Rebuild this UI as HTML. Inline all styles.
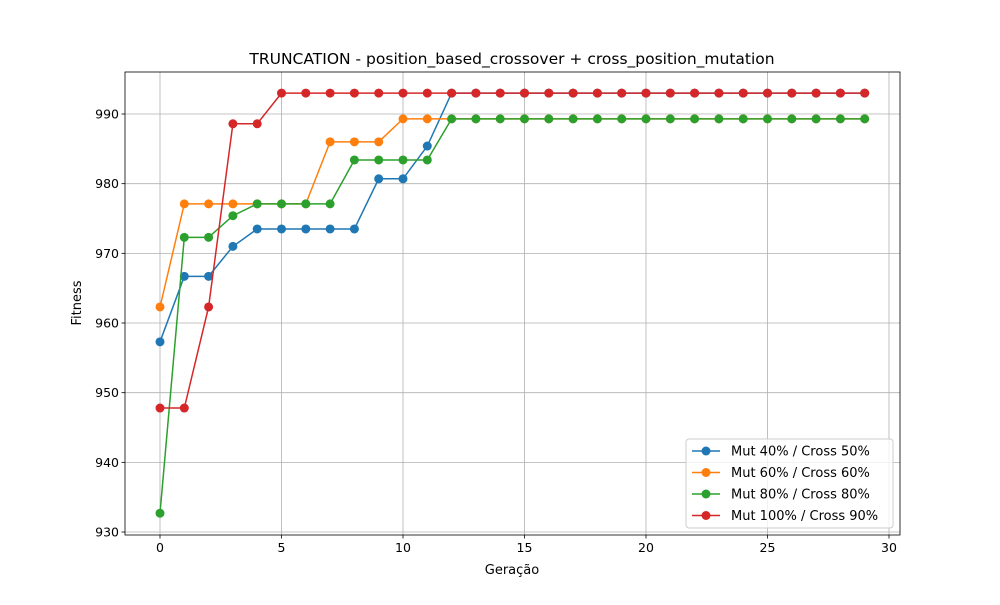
<!DOCTYPE html>
<html><head><meta charset="utf-8"><style>
body{margin:0;background:#fff;font-family:"Liberation Sans","DejaVu Sans",sans-serif}
svg text{font-family:"DejaVu Sans","Liberation Sans",sans-serif}
</style></head><body>
<svg id="chart" width="1000" height="600" viewBox="0 0 1000 600" xmlns="http://www.w3.org/2000/svg"></svg>
<script>
const generations=[...Array(30).keys()];
const seriesNames=["Mut 40% / Cross 50%","Mut 60% / Cross 60%","Mut 80% / Cross 80%","Mut 100% / Cross 90%"];
const colors=["#1f77b4","#ff7f0e","#2ca02c","#d62728"];
const mut40=[957.3,966.7,966.7,971.0,973.5,973.5,973.5,973.5,973.5,980.7,980.7,985.4,993,993,993,993,993,993,993,993,993,993,993,993,993,993,993,993,993,993];
const mut60=[962.3,977.1,977.1,977.1,977.1,977.1,977.1,986.0,986.0,986.0,989.3,989.3,989.3,989.3,989.3,989.3,989.3,989.3,989.3,989.3,989.3,989.3,989.3,989.3,989.3,989.3,989.3,989.3,989.3,989.3];
const mut80=[932.7,972.3,972.3,975.4,977.1,977.1,977.1,977.1,983.4,983.4,983.4,983.4,989.3,989.3,989.3,989.3,989.3,989.3,989.3,989.3,989.3,989.3,989.3,989.3,989.3,989.3,989.3,989.3,989.3,989.3];
const mut100=[947.8,947.8,962.3,988.6,988.6,993,993,993,993,993,993,993,993,993,993,993,993,993,993,993,993,993,993,993,993,993,993,993,993,993];
const xTicks=[0,5,10,15,20,25,30];
const yTicks=[930,940,950,960,970,980,990];
const allSeries=[mut40,mut60,mut80,mut100];
const L=125,R=900,T=72,B=535;
const X=v=>160+(v)*24.3;
const Y=v=>114+(990-v)*6.967;
const svg=document.getElementById('chart');
const NS="http://www.w3.org/2000/svg";
function mk(tag,attrs,parent){const e=document.createElementNS(NS,tag);for(const k in attrs)e.setAttribute(k,attrs[k]);(parent||svg).appendChild(e);return e;}
// grid
xTicks.forEach(t=>{const x=X(t);
 const g=mk('line',{x1:x,x2:x,y1:T,y2:B,stroke:'#b0b0b0','stroke-width':0.8});
 
 mk('line',{x1:x,x2:x,y1:B,y2:B+3.5,stroke:'#000','stroke-width':0.8});
 const tx=mk('text',{x:x,y:B+17,'text-anchor':'middle','font-size':12.5});tx.textContent=t;
 });
yTicks.forEach(t=>{const y=Y(t);
 const g=mk('line',{x1:L,x2:R,y1:y,y2:y,stroke:'#b0b0b0','stroke-width':0.8});
 
 mk('line',{x1:L-3.5,x2:L,y1:y,y2:y,stroke:'#000','stroke-width':0.8});
 const tx=mk('text',{x:L-6,y:y+4.5,'text-anchor':'end','font-size':12.5});tx.textContent=t;
 });
allSeries.forEach((s,i)=>{
 const g=mk('g',{});
 
 const p=mk('polyline',{points:s.map((v,j)=>X(generations[j])+','+Y(v)).join(' '),fill:'none',stroke:colors[i],'stroke-width':1.5},g);
 
 s.forEach((v,j)=>{const c=mk('circle',{cx:X(generations[j]),cy:Y(v),r:4.5,fill:colors[i]},g);
  });
});
const fr=mk('rect',{x:L,y:T,width:R-L,height:B-T,fill:'none',stroke:'#000','stroke-width':0.8});

const ti=mk('text',{x:512,y:64,'text-anchor':'middle','font-size':15.5});ti.textContent='TRUNCATION - position_based_crossover + cross_position_mutation';

const xl=mk('text',{x:512,y:574,'text-anchor':'middle','font-size':13});xl.textContent='Geração';

const yl=mk('text',{x:81,y:303,'text-anchor':'middle','font-size':13,transform:'rotate(-90 81 303)'});yl.textContent='Fitness';

const lg=mk('g',{});
mk('rect',{x:686,y:439,width:207,height:89,rx:3,fill:'#fff','fill-opacity':0.8,stroke:'#ccc'},lg);
seriesNames.forEach((n,i)=>{const y=451+i*21.5;
 const e=mk('g',{},lg);
 mk('line',{x1:692,x2:720,y1:y,y2:y,stroke:colors[i],'stroke-width':1.5},e);
 mk('circle',{cx:706,cy:y,r:4.5,fill:colors[i]},e);
 const t=mk('text',{x:731,y:y+4.5,'font-size':13},e);t.textContent=n;});
</script>
</body></html>
